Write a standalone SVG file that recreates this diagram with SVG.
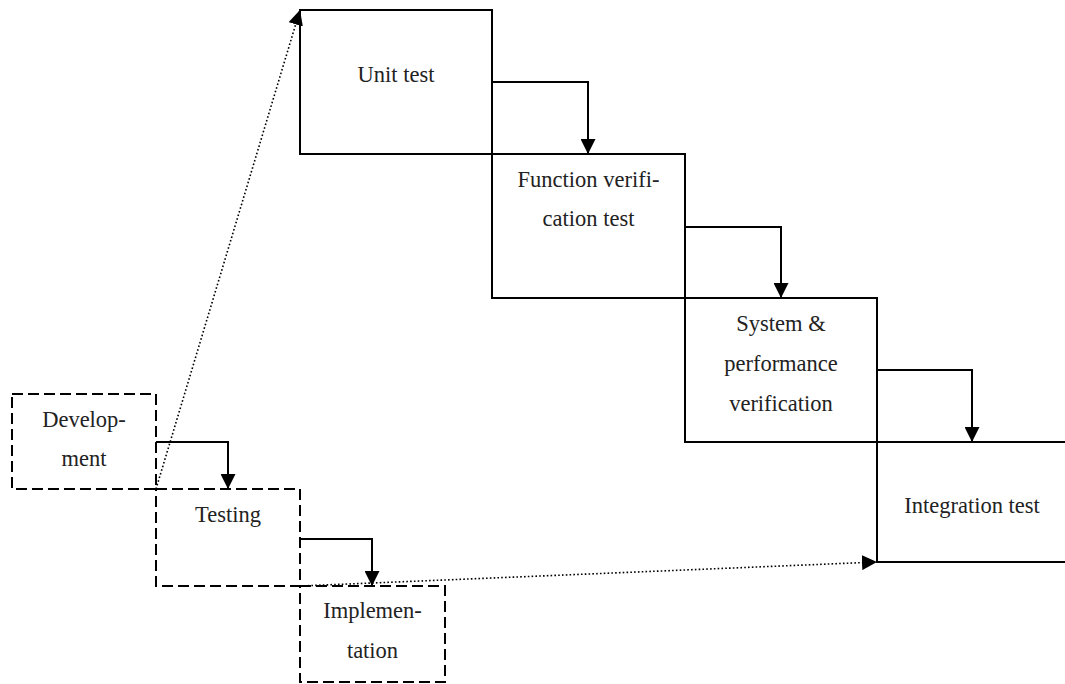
<svg xmlns="http://www.w3.org/2000/svg" width="1065" height="684" viewBox="0 0 1065 684">
  <style>
    .box { fill: none; stroke: #000; stroke-width: 2; }
    .phase { fill: none; stroke: #000; stroke-width: 2; stroke-dasharray: 11 5; }
    .flow { fill: none; stroke: #000; stroke-width: 2; }
    .dots { fill: none; stroke: #000; stroke-width: 1.6; stroke-dasharray: 1.6 2.2; }
    .lbl { font-size: 22.5px; fill: #222; text-anchor: middle; }
  </style>
  <defs>
    <marker id="head" markerUnits="userSpaceOnUse" markerWidth="15" markerHeight="15" refX="15" refY="7.5" orient="auto" viewBox="0 0 15 15">
      <path d="M0,0 L15,7.5 L0,15 z" fill="#000"/>
    </marker>
  </defs>
  <rect width="1065" height="684" fill="#fff"/>

  <g font-family="Liberation Serif, DejaVu Serif, serif">
    <!-- test stages -->
    <g id="unit-test">
      <rect class="box" x="300" y="10" width="192" height="144"/>
      <text class="lbl" x="396" y="82">Unit test</text>
    </g>
    <g id="function-verification">
      <rect class="box" x="492" y="154" width="193" height="144"/>
      <text class="lbl" x="588.5" y="187">Function verifi-</text>
      <text class="lbl" x="588.5" y="226">cation test</text>
    </g>
    <g id="system-performance">
      <rect class="box" x="685" y="298" width="192" height="144"/>
      <text class="lbl" x="781" y="331">System &amp;</text>
      <text class="lbl" x="781" y="371">performance</text>
      <text class="lbl" x="781" y="411">verification</text>
    </g>
    <g id="integration-test">
      <path class="box" d="M1070,442 H877 V562 H1070"/>
      <text class="lbl" x="972" y="513">Integration test</text>
    </g>

    <!-- lifecycle phases -->
    <g id="development">
      <rect class="phase" x="12" y="394" width="144" height="95"/>
      <text class="lbl" x="84" y="427">Develop-</text>
      <text class="lbl" x="84" y="466">ment</text>
    </g>
    <g id="testing">
      <rect class="phase" x="156" y="489" width="144" height="97"/>
      <text class="lbl" x="228" y="522">Testing</text>
    </g>
    <g id="implementation">
      <rect class="phase" x="300" y="586" width="145" height="96"/>
      <text class="lbl" x="372.5" y="618">Implemen-</text>
      <text class="lbl" x="372.5" y="658">tation</text>
    </g>
  </g>

  <!-- connectors -->
  <g id="connectors">
    <path class="flow" d="M492,82 H588 V154" marker-end="url(#head)"/>
    <path class="flow" d="M685,227 H781 V298" marker-end="url(#head)"/>
    <path class="flow" d="M877,370 H972 V442" marker-end="url(#head)"/>
    <path class="flow" d="M156,442 H228 V489" marker-end="url(#head)"/>
    <path class="flow" d="M300,539 H372 V586" marker-end="url(#head)"/>
    <path class="dots" d="M156,489 L300,10" marker-end="url(#head)"/>
    <path class="dots" d="M300,586 L877,562" marker-end="url(#head)"/>
  </g>
</svg>
